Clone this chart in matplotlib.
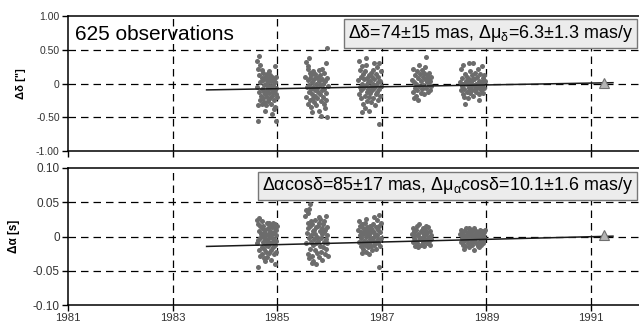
import numpy as np
import matplotlib
matplotlib.use("Agg")
import matplotlib.pyplot as plt

plt.rcParams['font.family'] = ['Liberation Sans', 'DejaVu Sans']
plt.rcParams['mathtext.default'] = 'regular'

# observations: (epoch [yr], d_delta [arcsec], d_alpha [s])
season_1985a = [
    (1984.61, 0.33, 0.024), (1984.62, -0.05, -0.010), (1984.63, 0.22, 0.018),
    (1984.64, -0.55, -0.005), (1984.65, 0.40, 0.027), (1984.65, -0.12, -0.020),
    (1984.66, 0.12, 0.008), (1984.67, -0.25, -0.028), (1984.68, 0.28, 0.015),
    (1984.68, 0.02, -0.002), (1984.69, -0.18, 0.004), (1984.70, 0.08, -0.015),
    (1984.70, -0.30, 0.012), (1984.71, -0.08, -0.025), (1984.72, 0.15, 0.001),
    (1984.72, -0.22, -0.008), (1984.73, 0.05, 0.016), (1984.74, -0.12, -0.032),
    (1984.75, -0.02, 0.006), (1984.75, -0.28, -0.018), (1984.76, 0.10, -0.004),
    (1984.77, -0.15, 0.010), (1984.78, 0.00, -0.022), (1984.78, -0.32, 0.002),
    (1984.79, 0.06, -0.012), (1984.80, -0.10, 0.020), (1984.80, -0.20, -0.006),
    (1984.81, 0.14, -0.030), (1984.82, -0.05, 0.004), (1984.83, -0.26, -0.014),
    (1984.83, 0.02, 0.012), (1984.84, -0.14, -0.002), (1984.85, 0.08, -0.024),
    (1984.86, -0.22, 0.008), (1984.86, -0.04, -0.010), (1984.87, 0.12, 0.016),
    (1984.88, -0.30, -0.020), (1984.88, -0.08, 0.000), (1984.89, 0.04, -0.035),
    (1984.90, -0.18, 0.014), (1984.90, -0.45, -0.008), (1984.91, 0.10, 0.004),
    (1984.92, -0.12, -0.016), (1984.92, -0.02, 0.020), (1984.93, -0.38, -0.026),
    (1984.94, 0.06, 0.006), (1984.94, -0.24, -0.004), (1984.95, 0.26, 0.012),
    (1984.95, -0.10, -0.040), (1984.96, -0.35, 0.018), (1984.96, 0.02, -0.012),
    (1984.97, -0.55, 0.002), (1984.97, -0.16, -0.022), (1984.98, 0.10, 0.010),
    (1984.98, -0.06, -0.006), (1984.99, -0.20, 0.015), (1984.63, -0.32, -0.045),
    (1984.70, 0.20, 0.022), (1984.76, -0.40, -0.036), (1984.84, 0.18, 0.019),
]
season_1985b = [
    (1985.54, 0.10, 0.030), (1985.55, -0.20, -0.010), (1985.56, 0.32, 0.038),
    (1985.57, -0.05, 0.005), (1985.58, 0.22, 0.020), (1985.58, -0.30, -0.025),
    (1985.59, 0.05, 0.012), (1985.60, -0.12, -0.032), (1985.60, 0.38, 0.040),
    (1985.61, -0.02, -0.002), (1985.62, 0.15, 0.048), (1985.62, -0.25, 0.015),
    (1985.63, 0.08, -0.018), (1985.64, -0.08, 0.022), (1985.65, -0.35, -0.008),
    (1985.65, 0.12, 0.002), (1985.66, -0.15, -0.028), (1985.67, 0.02, 0.018),
    (1985.68, -0.22, -0.012), (1985.68, 0.18, 0.008), (1985.69, -0.05, -0.036),
    (1985.70, -0.28, 0.010), (1985.71, 0.06, -0.004), (1985.72, -0.10, 0.024),
    (1985.72, 0.14, -0.020), (1985.73, -0.18, 0.004), (1985.74, 0.00, -0.040),
    (1985.75, -0.32, 0.014), (1985.75, 0.10, -0.010), (1985.76, -0.06, 0.000),
    (1985.77, -0.22, -0.024), (1985.78, 0.08, 0.016), (1985.78, -0.12, -0.006),
    (1985.79, -0.40, 0.020), (1985.80, 0.04, -0.030), (1985.81, -0.16, 0.008),
    (1985.82, 0.12, -0.014), (1985.82, -0.02, 0.026), (1985.83, -0.26, -0.002),
    (1985.84, -0.48, -0.022), (1985.85, 0.06, 0.012), (1985.86, -0.10, -0.034),
    (1985.86, 0.22, 0.004), (1985.87, -0.20, 0.018), (1985.88, 0.00, -0.016),
    (1985.89, -0.30, 0.006), (1985.90, 0.16, -0.008), (1985.90, -0.08, 0.022),
    (1985.91, -0.36, -0.026), (1985.92, 0.04, 0.010), (1985.93, -0.14, -0.004),
    (1985.94, 0.30, 0.030), (1985.94, -0.24, -0.018), (1985.95, -0.50, 0.014),
    (1985.96, 0.08, -0.010), (1985.96, 0.52, 0.002), (1985.97, -0.04, -0.028),
    (1985.58, 0.26, 0.034), (1985.66, -0.42, -0.038), (1985.80, 0.20, 0.028),
]
season_1986 = [
    (1986.55, 0.05, 0.010), (1986.56, -0.15, -0.008), (1986.57, 0.34, 0.022),
    (1986.58, -0.05, 0.002), (1986.59, 0.20, 0.016), (1986.60, -0.22, -0.014),
    (1986.60, 0.10, 0.006), (1986.61, -0.10, -0.002), (1986.62, 0.26, 0.018),
    (1986.63, 0.00, -0.010), (1986.64, -0.30, 0.012), (1986.64, 0.14, -0.018),
    (1986.65, -0.06, 0.004), (1986.66, 0.06, -0.006), (1986.67, -0.36, 0.020),
    (1986.68, -0.18, -0.012), (1986.68, 0.18, 0.008), (1986.69, -0.02, -0.022),
    (1986.70, 0.28, 0.000), (1986.71, -0.12, 0.014), (1986.72, 0.08, -0.008),
    (1986.72, -0.26, 0.004), (1986.73, 0.02, -0.016), (1986.74, -0.08, 0.010),
    (1986.75, 0.12, -0.026), (1986.76, -0.20, 0.002), (1986.76, -0.40, -0.010),
    (1986.77, 0.04, 0.016), (1986.78, -0.14, -0.004), (1986.79, 0.16, 0.006),
    (1986.80, -0.04, -0.014), (1986.80, -0.28, 0.012), (1986.81, 0.10, -0.002),
    (1986.82, -0.10, -0.020), (1986.83, 0.00, 0.008), (1986.84, -0.22, -0.006),
    (1986.84, 0.20, 0.018), (1986.85, -0.06, 0.000), (1986.86, 0.06, -0.012),
    (1986.87, -0.32, 0.004), (1986.88, -0.16, 0.014), (1986.88, 0.14, -0.008),
    (1986.89, -0.02, -0.018), (1986.90, 0.24, 0.024), (1986.91, -0.12, 0.002),
    (1986.92, 0.02, -0.010), (1986.92, -0.24, 0.010), (1986.93, 0.10, -0.004),
    (1986.94, -0.08, 0.016), (1986.95, -0.60, -0.045), (1986.95, 0.30, 0.031),
    (1986.96, -0.18, -0.014), (1986.97, 0.04, 0.006), (1986.98, -0.04, -0.002),
    (1986.99, 0.18, 0.020), (1986.62, -0.42, -0.024), (1986.70, 0.38, 0.026),
    (1986.86, 0.30, 0.028),
]
season_1987 = [
    (1987.58, 0.05, 0.004), (1987.59, -0.12, -0.008), (1987.60, 0.22, 0.012),
    (1987.61, -0.22, -0.002), (1987.62, 0.02, 0.008), (1987.63, -0.06, -0.014),
    (1987.64, 0.12, 0.002), (1987.65, -0.18, 0.010), (1987.66, 0.00, -0.006),
    (1987.67, 0.18, 0.016), (1987.68, -0.10, -0.010), (1987.69, 0.08, 0.004),
    (1987.70, -0.25, -0.016), (1987.71, 0.28, 0.018), (1987.72, -0.04, 0.000),
    (1987.73, 0.14, -0.004), (1987.74, -0.14, 0.008), (1987.75, 0.04, -0.012),
    (1987.76, 0.20, 0.006), (1987.77, -0.08, -0.002), (1987.78, 0.10, 0.012),
    (1987.79, -0.02, -0.008), (1987.80, 0.16, 0.002), (1987.81, -0.16, -0.014),
    (1987.82, 0.06, 0.010), (1987.83, 0.24, -0.004), (1987.84, -0.06, 0.004),
    (1987.85, 0.39, 0.016), (1987.86, 0.02, -0.010), (1987.87, 0.12, 0.006),
    (1987.88, -0.12, -0.002), (1987.89, 0.08, 0.014), (1987.90, -0.02, -0.006),
    (1987.91, 0.16, 0.000), (1987.92, 0.04, -0.012), (1987.93, -0.10, 0.008),
    (1987.94, 0.10, -0.004), (1987.95, -0.04, 0.002),
]
season_1988 = [
    (1988.50, 0.02, 0.004), (1988.51, -0.10, -0.008), (1988.52, 0.22, 0.010),
    (1988.53, -0.04, -0.002), (1988.54, 0.08, 0.006), (1988.55, -0.16, -0.012),
    (1988.56, 0.28, 0.002), (1988.57, 0.00, -0.006), (1988.58, -0.08, 0.008),
    (1988.59, 0.14, -0.014), (1988.60, -0.30, 0.000), (1988.61, 0.04, 0.012),
    (1988.62, -0.12, -0.004), (1988.63, 0.10, 0.004), (1988.64, -0.02, -0.010),
    (1988.65, -0.22, 0.006), (1988.66, 0.06, -0.002), (1988.67, -0.06, -0.016),
    (1988.68, 0.18, 0.010), (1988.69, -0.14, 0.002), (1988.70, 0.02, -0.008),
    (1988.71, -0.04, 0.004), (1988.72, 0.12, -0.012), (1988.73, -0.10, 0.008),
    (1988.74, 0.30, 0.000), (1988.75, -0.18, -0.006), (1988.76, 0.06, 0.012),
    (1988.77, -0.02, -0.020), (1988.78, 0.16, 0.004), (1988.79, -0.08, -0.004),
    (1988.80, 0.00, 0.008), (1988.81, -0.12, -0.010), (1988.82, 0.10, 0.002),
    (1988.83, -0.04, -0.014), (1988.84, 0.22, 0.006), (1988.85, -0.16, 0.000),
    (1988.86, 0.04, -0.008), (1988.87, -0.06, 0.010), (1988.88, 0.14, -0.002),
    (1988.89, -0.10, 0.004), (1988.90, 0.02, -0.012), (1988.91, 0.26, 0.008),
    (1988.92, -0.02, -0.006), (1988.93, 0.08, 0.002), (1988.94, -0.14, -0.010),
    (1988.95, 0.12, 0.006), (1988.96, -0.06, -0.002), (1988.97, 0.04, 0.010),
    (1988.55, 0.00, 0.000), (1988.62, 0.02, -0.004), (1988.68, -0.08, 0.004),
    (1988.75, 0.06, -0.004), (1988.82, -0.06, 0.000), (1988.88, 0.00, 0.004),
    (1988.94, 0.04, -0.006), (1988.58, -0.20, -0.018), (1988.66, 0.30, 0.013),
    (1988.86, -0.24, -0.016),
]

# linear fit and reference (Hipparcos) point
fit_epoch = [1983.65, 1991.42]
fit_ddelta = [-0.095, 0.012]
fit_dalpha = [-0.0145, 0.0005]
ref_epoch = [1991.25]
ref_ddelta = [0.005]
ref_dalpha = [0.002]

n_obs_label = "625 observations"
label_delta = "Δδ=74±15 mas, Δμ$_{δ}$=6.3±1.3 mas/y"
label_alpha = "Δαcosδ=85±17 mas, Δμ$_{α}$cosδ=10.1±1.6 mas/y"

x_ticks = [1981, 1983, 1985, 1987, 1989, 1991]
top_ticks = [-1.0, -0.5, 0, 0.5, 1.0]
top_ticklabels = ["-1.00", "-0.50", "0", "0.50", "1.00"]
bot_ticks = [-0.10, -0.05, 0, 0.05, 0.10]
bot_ticklabels = ["-0.10", "-0.05", "0", "0.05", "0.10"]

obs = np.array(season_1985a + season_1985b + season_1986 + season_1987 + season_1988)
epoch, ddelta, dalpha = obs[:, 0], obs[:, 1], obs[:, 2]

W, H = 639, 327
fig = plt.figure(figsize=(W / 100, H / 100), dpi=100)
ax1 = fig.add_axes([68 / W, 1 - 151 / H, (W - 68) / W, 135 / H])
ax2 = fig.add_axes([68 / W, 1 - 305 / H, (W - 68) / W, 137 / H])

dot_color = "#6c6c6c"
for ax, vals, fit, ref, ticks, tlabels, lim, tsize in [
    (ax1, ddelta, fit_ddelta, ref_ddelta, top_ticks, top_ticklabels, 1.0, 7.5),
    (ax2, dalpha, fit_dalpha, ref_dalpha, bot_ticks, bot_ticklabels, 0.10, 8.5),
]:
    ax.plot(epoch, vals, 'o', ms=3.6, mew=0, color=dot_color, zorder=3)
    ax.plot(fit_epoch, fit, '-', color="#1a1a1a", lw=1.1, zorder=4)
    ax.plot(ref_epoch, ref, '^', ms=7, color="#b4b4b4", mec="#707070", mew=0.8, zorder=5)
    ax.set_xlim(1981, 1981 + (W - 68) / 52.3)
    ax.set_ylim(-lim, lim)
    ax.set_xticks(x_ticks)
    ax.set_yticks(ticks)
    ax.set_yticklabels(tlabels, fontsize=tsize, color="#333333")
    for x in x_ticks[1:]:
        ax.axvline(x, color="black", lw=0.9, ls=(0, (6, 4)), zorder=1)
    for y in ticks[1:-1]:
        ax.axhline(y, color="black", lw=0.9, ls=(0, (6, 4)), zorder=1)
    ax.spines['right'].set_visible(False)
    for s in ['left', 'top', 'bottom']:
        ax.spines[s].set_linewidth(1.1)
    ax.tick_params(direction='out', length=4, width=1, pad=2)

ax1.set_xticklabels([])
ax2.set_xticklabels([str(x) for x in x_ticks], fontsize=8.2, color="#333333")

ax1.set_ylabel('Δδ ["]', fontsize=8, fontweight='bold')
ax1.yaxis.set_label_coords((26 - 68) / (W - 68), 0.5)
ax2.set_ylabel('Δα [s]', fontsize=8.5, fontweight='bold')
ax2.yaxis.set_label_coords((20 - 68) / (W - 68), 0.5)

ax1.text(0.012, 0.865, n_obs_label, transform=ax1.transAxes, fontsize=15,
         ha='left', va='center')
box = dict(boxstyle='square,pad=0.22', fc="#ececec", ec="#777777", lw=1)
ax1.text((633 - 68) / (W - 68), 0.87, label_delta, transform=ax1.transAxes,
         fontsize=12.9, ha='right', va='center', bbox=box, zorder=6)
ax2.text((633 - 68) / (W - 68), 0.869, label_alpha, transform=ax2.transAxes,
         fontsize=12.9, ha='right', va='center', bbox=box, zorder=6)

fig.savefig("out.png", dpi=100)
